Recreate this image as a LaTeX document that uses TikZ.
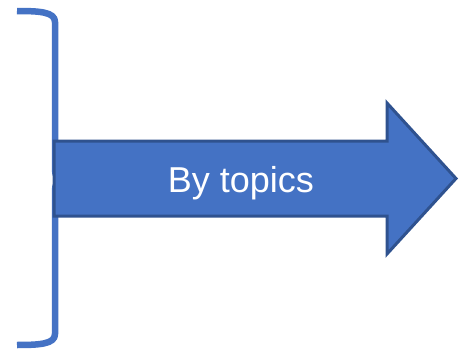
\documentclass[tikz,border=0pt]{standalone}
\usepackage{fontspec}
\setmainfont{Liberation Sans}
\definecolor{fillblue}{HTML}{4472C4}
\definecolor{edgeblue}{HTML}{2F528F}
\begin{document}
\begin{tikzpicture}[x=1pt,y=-1pt,
  bracestyle/.style={draw=fillblue,line width=6.5pt,line cap=butt,line join=round},
  arrowstyle/.style={fill=fillblue,draw=edgeblue,line width=3pt,line join=miter},
  labelstyle/.style={text=white,font=\fontsize{36}{40}\selectfont}]
\useasboundingbox (0,0) rectangle (459,351);
% brace
\draw[bracestyle] (17,11) .. controls (40,11) and (55,12) .. (55,22)
  -- (55,170) .. controls (55,176) and (58,179) .. (62,180)
  .. controls (58,181) and (55,184) .. (55,190)
  -- (55,334) .. controls (55,344) and (40,345) .. (17,345);
% arrow
\draw[arrowstyle] (54,141) -- (387,141) -- (387,103) -- (456,178.5)
  -- (387,254) -- (387,216) -- (54,216) -- cycle;
\node[labelstyle,anchor=base] (lbl) at (241,192) {By topics};
\end{tikzpicture}
\end{document}
